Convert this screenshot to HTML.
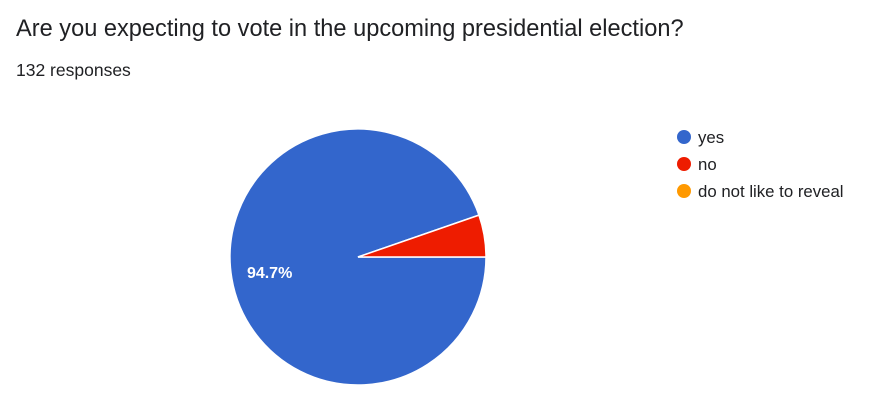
<!DOCTYPE html>
<html><head><meta charset="utf-8"><style>
body{margin:0;background:#fff;font-family:"Liberation Sans",Arial,sans-serif;}
#wrap{position:relative;width:886px;height:416px;overflow:hidden;}
#title{position:absolute;left:16px;top:16px;font-size:23.6px;color:#202124;white-space:nowrap;}
#resp{position:absolute;left:16px;top:60px;font-size:17.5px;color:#202124;}
</style></head><body>
<div id="wrap">
<div id="title">Are you expecting to vote in the upcoming presidential election?</div>
<div id="resp">132 responses</div>
<svg id="svg" width="886" height="416" style="position:absolute;left:0;top:0"></svg>
</div>
<script>
const categories=["yes","no","do not like to reveal"];
const values=[125,7,0];
const colors=["#3366cc","#ee1c00","#ff9900"];
const svg=document.getElementById('svg');
const NS="http://www.w3.org/2000/svg";
const cx=358,cy=257,r=128;
const total=values.reduce((a,b)=>a+b,0);
let ang=0;
function pt(a){return [cx+r*Math.cos(a),cy+r*Math.sin(a)];}
values.forEach((v,i)=>{
  if(v<=0)return;
  const sweep=v/total*2*Math.PI;
  const a0=ang,a1=ang+sweep;
  const [x0,y0]=pt(a0),[x1,y1]=pt(a1);
  const p=document.createElementNS(NS,'path');
  p.setAttribute('d',`M${cx},${cy} L${x0},${y0} A${r},${r} 0 ${sweep>Math.PI?1:0} 1 ${x1},${y1} Z`);
  p.setAttribute('fill',colors[i]);
  p.setAttribute('stroke','#fff');
  p.setAttribute('stroke-width','1.5');
  
  
  svg.appendChild(p);
  const pct=v/total*100;
  if(pct>=10){
    const mid=(a0+a1)/2;
    const t=document.createElementNS(NS,'text');
    t.setAttribute('x',cx+r*0.7*Math.cos(mid));
    t.setAttribute('y',cy+r*0.7*Math.sin(mid)+6);
    t.setAttribute('text-anchor','middle');
    t.setAttribute('fill','#fff');
    t.setAttribute('font-size','16');
    t.setAttribute('font-weight','bold');
    t.setAttribute('font-family','Liberation Sans, Arial, sans-serif');
    t.textContent=pct.toFixed(1)+'%';
    
    
    svg.appendChild(t);
  }
  ang=a1;
});
categories.forEach((c,i)=>{
  const y=137+i*27;
  const g=document.createElementNS(NS,'g');
  
  
  const ci=document.createElementNS(NS,'circle');
  ci.setAttribute('cx',684);ci.setAttribute('cy',y);ci.setAttribute('r',7);
  ci.setAttribute('fill',colors[i]);
  g.appendChild(ci);
  const t=document.createElementNS(NS,'text');
  t.setAttribute('x',698);t.setAttribute('y',y+6);
  t.setAttribute('font-size','16.8');t.setAttribute('fill','#202124');
  t.setAttribute('font-family','Liberation Sans, Arial, sans-serif');
  t.textContent=c;
  g.appendChild(t);
  svg.appendChild(g);
});
</script>
</body></html>
